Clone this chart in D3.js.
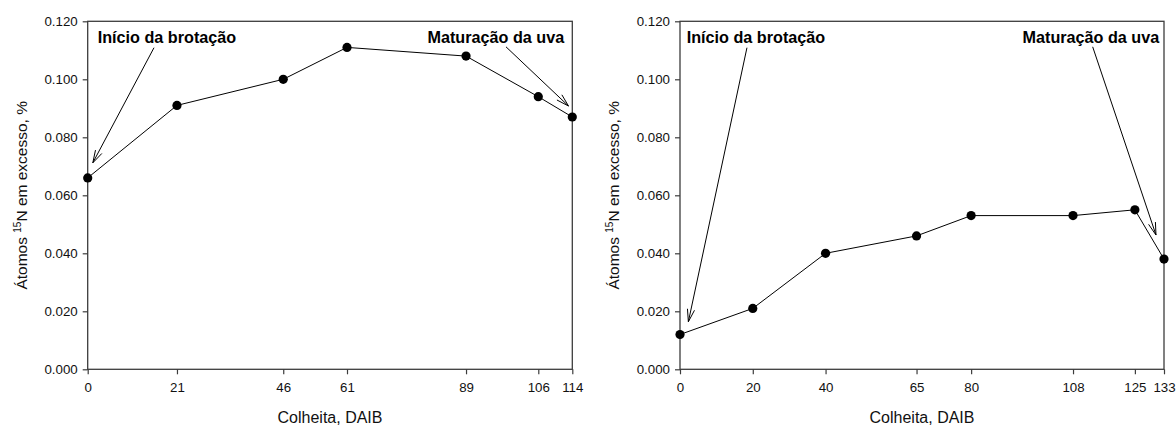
<!DOCTYPE html>
<html>
<head>
<meta charset="utf-8">
<script src="https://cdn.jsdelivr.net/npm/d3@7"></script>
<style>
  html, body { margin: 0; padding: 0; background: #fff; }
  svg { display: block; font-family: "Liberation Sans", Arial, Helvetica, sans-serif; }
</style>
</head>
<body>
<svg id="chart" width="1176" height="427"></svg>
<script>
// Excess 15N atoms (%) by harvest date, days after budbreak (DAIB)
const leftDays = [0, 21, 46, 61, 89, 106, 114];
const leftExcess = [0.066, 0.091, 0.100, 0.111, 0.108, 0.094, 0.087];

const rightDays = [0, 20, 40, 65, 80, 108, 125, 133];
const rightExcess = [0.012, 0.021, 0.040, 0.046, 0.053, 0.053, 0.055, 0.038];

const yTicks = [0, 0.02, 0.04, 0.06, 0.08, 0.10, 0.12];
const xTitle = "Colheita, DAIB";
const yTitle = ["Átomos ", "15", "N em excesso, %"];

// Callouts in data units: label anchor, arrow tail and arrow tip
const leftNotes = [
  { text: "Início da brotação", anchor: "start", tx: 2.35, ty: 0.1126, x1: 15.6, y1: 0.1109, x2: 1.2, y2: 0.0712 },
  { text: "Maturação da uva", anchor: "end", tx: 112.1, ty: 0.1126, x1: 98.4, y1: 0.1112, x2: 113.1, y2: 0.0908 }
];
const rightNotes = [
  { text: "Início da brotação", anchor: "start", tx: 1.84, ty: 0.1126, x1: 18.4, y1: 0.1109, x2: 2.3, y2: 0.0164 },
  { text: "Maturação da uva", anchor: "end", tx: 131.7, ty: 0.1126, x1: 113.4, y1: 0.1112, x2: 130.8, y2: 0.0463 }
];

const svg = d3.select("#chart");
const frameColor = "#3c3c3c";

function drawPanel(left, right, days, values, notes) {
  const top = 21.3, bottom = 369.3;
  const x = d3.scaleLinear().domain([0, d3.max(days)]).range([left, right]);
  const y = d3.scaleLinear().domain([0, 0.12]).range([bottom, top]);
  const g = svg.append("g");

  // plot frame
  g.append("rect")
    .attr("x", left).attr("y", top)
    .attr("width", right - left).attr("height", bottom - top)
    .attr("fill", "none").attr("stroke", frameColor).attr("stroke-width", 1.3);

  // y axis
  const ya = g.append("g").attr("transform", `translate(${left},0)`)
    .call(d3.axisLeft(y).tickValues(yTicks).tickFormat(d3.format(".3f")).tickSizeInner(5).tickSizeOuter(0).tickPadding(5));
  ya.select(".domain").remove();
  ya.selectAll(".tick line").attr("stroke", frameColor).attr("stroke-width", 1.2);
  ya.selectAll(".tick text").attr("font-size", 13.3).attr("fill", "#111").attr("font-family", null);

  // x axis
  const xa = g.append("g").attr("transform", `translate(0,${bottom})`)
    .call(d3.axisBottom(x).tickValues(days).tickFormat(d3.format("d")).tickSizeInner(5).tickSizeOuter(0).tickPadding(8));
  xa.select(".domain").remove();
  xa.selectAll(".tick line").attr("stroke", frameColor).attr("stroke-width", 1.2);
  xa.selectAll(".tick text").attr("font-size", 13.3).attr("fill", "#111").attr("font-family", null);

  // axis titles
  g.append("text")
    .attr("x", (left + right) / 2).attr("y", 423)
    .attr("text-anchor", "middle").attr("font-size", 16).attr("fill", "#111")
    .text(xTitle);

  const yt = g.append("text")
    .attr("transform", `translate(${left - 61},${(top + bottom) / 2}) rotate(-90)`)
    .attr("text-anchor", "middle").attr("font-size", 15.5).attr("fill", "#111");
  yt.append("tspan").text(yTitle[0]);
  yt.append("tspan").attr("font-size", 10).attr("dy", -6).text(yTitle[1]);
  yt.append("tspan").attr("dy", 6).text(yTitle[2]);

  // series line and markers
  const pts = days.map((d, i) => [d, values[i]]);
  g.append("path")
    .datum(pts)
    .attr("fill", "none").attr("stroke", "#000").attr("stroke-width", 1)
    .attr("d", d3.line().x(d => x(d[0])).y(d => y(d[1])));
  g.selectAll("circle.pt").data(pts).enter().append("circle")
    .attr("class", "pt")
    .attr("cx", d => x(d[0])).attr("cy", d => y(d[1]))
    .attr("r", 4.6).attr("fill", "#000");

  // callouts
  notes.forEach(n => {
    g.append("text")
      .attr("x", x(n.tx)).attr("y", y(n.ty))
      .attr("text-anchor", n.anchor)
      .attr("font-size", 16.2).attr("font-weight", "bold").attr("fill", "#000")
      .text(n.text);
    const X1 = x(n.x1), Y1 = y(n.y1), X2 = x(n.x2), Y2 = y(n.y2);
    g.append("line")
      .attr("x1", X1).attr("y1", Y1).attr("x2", X2).attr("y2", Y2)
      .attr("stroke", "#000").attr("stroke-width", 1);
    const ang = Math.atan2(Y1 - Y2, X1 - X2);
    const len = 13, spread = 0.28;
    const head = [ang - spread, ang + spread].map(a => [X2 + len * Math.cos(a), Y2 + len * Math.sin(a)]);
    g.append("path")
      .attr("d", `M${head[0][0]},${head[0][1]}L${X2},${Y2}L${head[1][0]},${head[1][1]}`)
      .attr("fill", "none").attr("stroke", "#000").attr("stroke-width", 1);
  });
}

drawPanel(87.7, 572.3, leftDays, leftExcess, leftNotes);
drawPanel(680, 1164, rightDays, rightExcess, rightNotes);
</script>
</body>
</html>
